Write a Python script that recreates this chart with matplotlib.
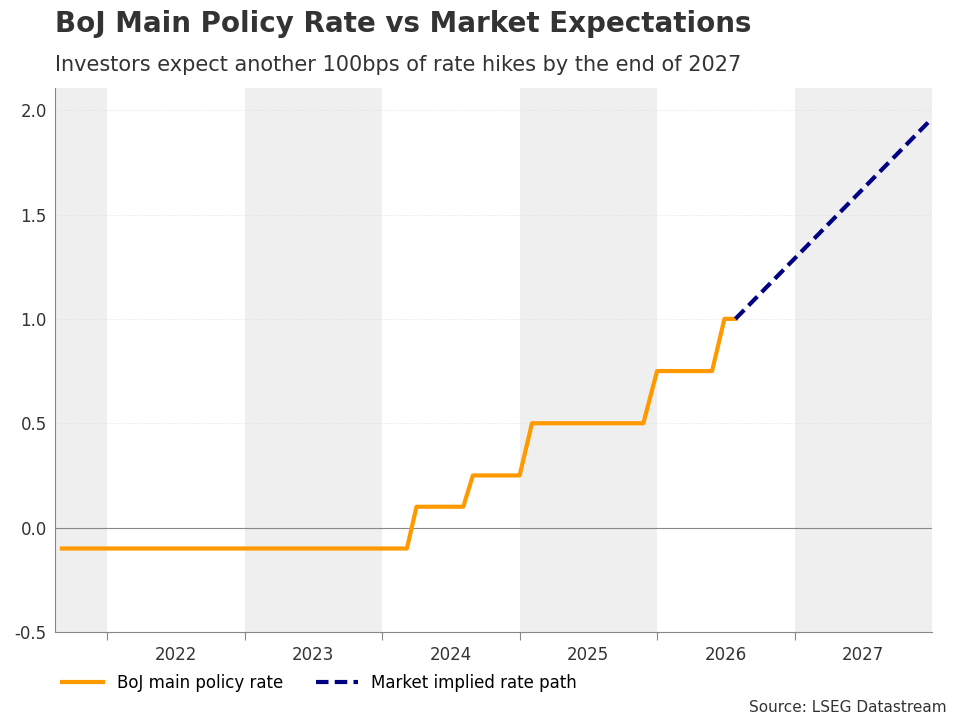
import matplotlib.pyplot as plt

boj_x = [2021.67, 2024.18, 2024.25, 2024.59, 2024.66, 2025.0, 2025.09, 2025.9, 2026.0, 2026.4, 2026.49, 2026.57]
boj_y = [-0.1, -0.1, 0.1, 0.1, 0.25, 0.25, 0.5, 0.5, 0.75, 0.75, 1.0, 1.0]
mkt_x = [2026.57, 2028.0]
mkt_y = [1.0, 1.96]
years = [2022, 2023, 2024, 2025, 2026, 2027]
yticks = [-0.5, 0.0, 0.5, 1.0, 1.5, 2.0]

fig = plt.figure(figsize=(9.6, 7.2), dpi=100)
ax = fig.add_axes([55/960, 1-632/720, 877/960, 544/720])
x0, x1 = 2021.62, 2028.0
ax.set_xlim(x0, x1)
ax.set_ylim(-0.5, 2.106)
for a, b in [(x0, 2022), (2023, 2024), (2025, 2026), (2027, x1)]:
    ax.axvspan(a, b, color='#efefef', zorder=0, lw=0)
for y in yticks:
    ax.axhline(y, color='#dddddd', lw=0.6, ls=':', zorder=1)
ax.axhline(0, color='#888888', lw=0.8, zorder=2)
ax.plot(boj_x, boj_y, color='#ff9900', lw=3, label='BoJ main policy rate', zorder=3)
ax.plot(mkt_x, mkt_y, color='#000080', lw=3, ls=(0, (3, 1.5)), label='Market implied rate path', zorder=3)
ax.set_yticks(yticks)
ax.set_yticklabels([f'{v:.1f}' for v in yticks], fontsize=12, color='#333333')
ax.set_xticks(list(range(2022, 2028)))
ax.set_xticklabels([])
ax.set_xticks([y + 0.5 for y in years], minor=True)
ax.set_xticklabels([str(y) for y in years], minor=True, fontsize=12, color='#333333')
ax.tick_params(axis='x', which='minor', length=0, pad=10)
ax.tick_params(axis='x', which='major', length=6, color='#888888')
ax.tick_params(axis='y', length=0, pad=6)
for s in ['top', 'right']:
    ax.spines[s].set_visible(False)
for s in ['left', 'bottom']:
    ax.spines[s].set_color('#888888')
fig.text(55/960, 1-24/720, 'BoJ Main Policy Rate vs Market Expectations', fontsize=20, fontweight='bold', color='#333333', va='center')
fig.text(55/960, 1-65/720, 'Investors expect another 100bps of rate hikes by the end of 2027', fontsize=15, color='#333333', va='center')
ax.legend(loc='upper left', bbox_to_anchor=(0.0, -0.065), ncol=2, frameon=False, fontsize=12, handlelength=2.5, borderaxespad=0)
fig.text(947/960, 1-708/720, 'Source: LSEG Datastream', fontsize=11, color='#333333', ha='right', va='center')
fig.savefig('out.png')
